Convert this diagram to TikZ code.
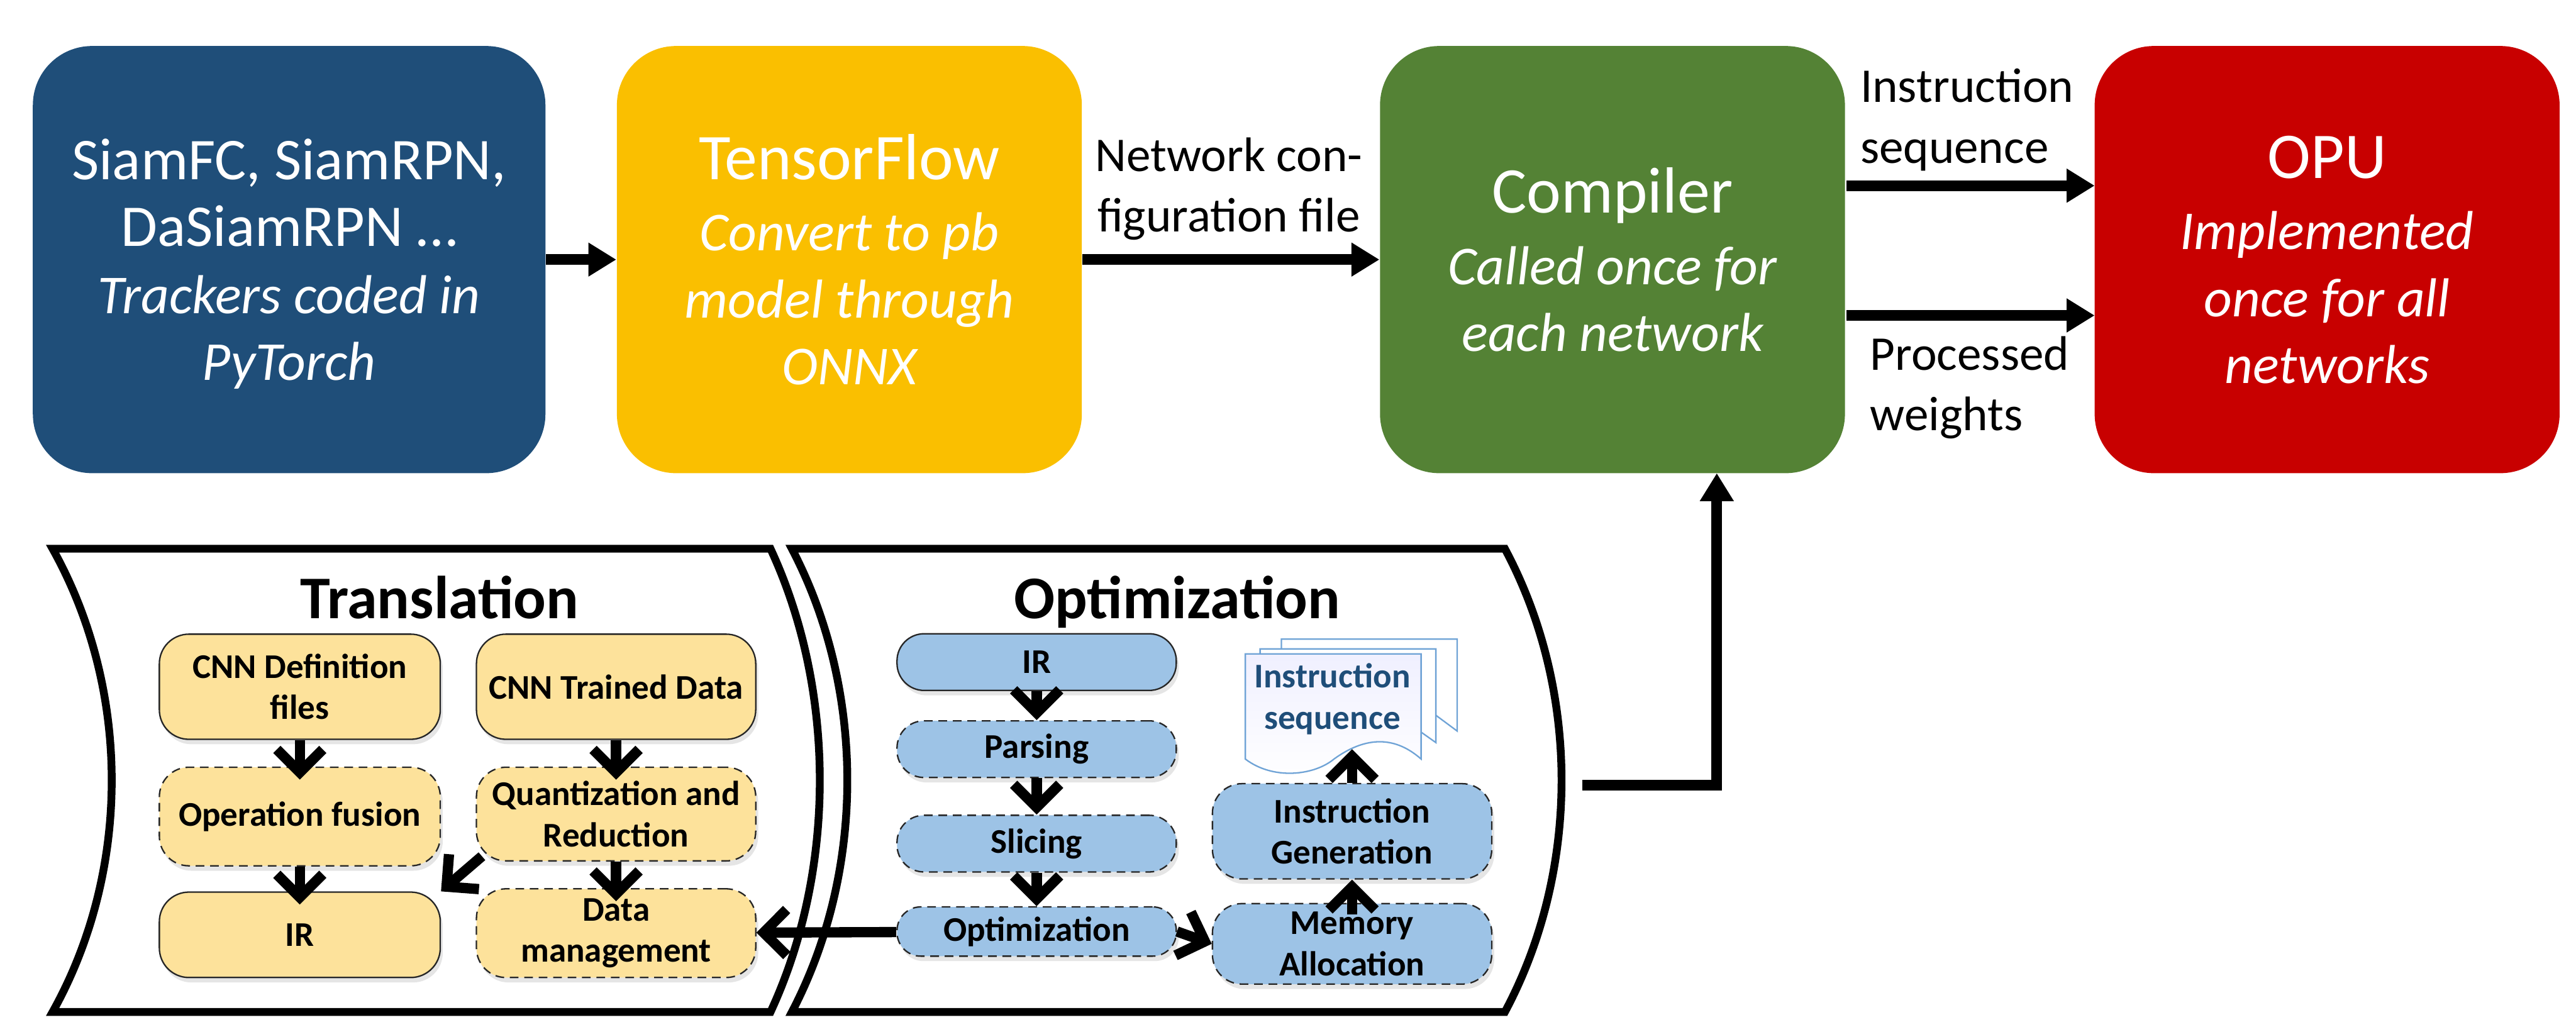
\documentclass[tikz,border=0pt]{standalone}
\usepackage{fontspec}
\setmainfont{Carlito}
\usetikzlibrary{arrows.meta,shadows}
\definecolor{trackblue}{HTML}{1F4E79}
\definecolor{tfyellow}{HTML}{FABF00}
\definecolor{compgreen}{HTML}{548235}
\definecolor{opured}{HTML}{C80000}
\definecolor{subyellow}{HTML}{FDE29B}
\definecolor{subblue}{HTML}{9DC3E6}
\definecolor{pageline}{HTML}{6FA3D6}
\begin{document}
\begin{tikzpicture}[
    x=0.2mm, y=-0.2mm,
    stage/.style={rounded corners=0.72cm, minimum width=5.66cm, minimum height=5.2cm, text=white, align=center, inner sep=0pt, text depth=0pt, font=\fontsize{19}{23.2}\selectfont},
    lab/.style={align=left, inner sep=0pt, font=\fontsize{16.8}{21}\selectfont},
    head/.style={inner sep=0pt, font=\fontsize{21}{24}\selectfont\bfseries},
    solidbox/.style={draw=black!85, line width=0.5pt, rounded corners=0.36cm, inner sep=0pt, align=center, font=\fontsize{12}{14.2}\selectfont\bfseries, drop shadow={shadow xshift=0.3mm, shadow yshift=-0.6mm, opacity=0.2}},
    dashbox/.style={solidbox, dashed, dash pattern=on 3pt off 2pt},
    arr/.style={-{Triangle[length=3.4mm, width=3.9mm]}, line width=1.3mm},
    barb/.style={-{Straight Barb[length=2.8mm, width=5.6mm]}, line width=1.25mm},
    dip/.style={barb, shorten >=-1.6mm},
    frame/.style={draw=black, line width=0.95mm, fill=white},
    page/.style={draw=pageline, line width=0.5pt, fill=white},
]
\useasboundingbox (0,0) rectangle (1568,625);

% Top row
\node[stage, fill=trackblue, minimum width=6.24cm] (track) at (176,158) {\fontsize{20.5}{23.2}\selectfont SiamFC, SiamRPN,\\ \fontsize{20.5}{23.2}\selectfont DaSiamRPN …\\ \itshape Trackers coded in\\ \itshape PyTorch};
\node[stage, fill=tfyellow] (tflow) at (517,158) {\fontsize{22.6}{25}\selectfont TensorFlow\\[1.5pt] \itshape Convert to pb\\ \itshape model through\\ \itshape ONNX};
\node[stage, fill=compgreen] (comp) at (981.5,158) {\fontsize{22.6}{25}\selectfont Compiler\\[1.5pt] \itshape Called once for\\ \itshape each network};
\node[stage, fill=opured] (opu) at (1416.5,158) {\fontsize{22.6}{25}\selectfont OPU\\[1.5pt] \itshape Implemented\\ \itshape once for all\\ \itshape networks};

\coordinate (seqfrom) at (1124,113);
\coordinate (seqto) at (1275,113);
\coordinate (wgtfrom) at (1124,192);
\coordinate (wgtto) at (1275,192);

\draw[arr] (track) -- (tflow);
\draw[arr] (tflow) -- (comp);
\draw[arr] (seqfrom) -- (seqto);
\draw[arr] (wgtfrom) -- (wgtto);

\node[lab, align=center] (netcfg) at (748,115) {Network con-\\figuration file};
\node[lab, anchor=west] (seqlab) at (1132,73) {Instruction\\sequence};
\node[lab, anchor=west] (wgtlab) at (1138,236) {Processed\\weights};

% Frames
\draw[frame] (32,334) -- (469,334) .. controls (509,420) and (509,530) .. (469,616) -- (32,616) .. controls (80,530) and (80,420) .. (32,334) -- cycle;
\draw[frame] (482,334) -- (916,334) .. controls (962,420) and (962,530) .. (916,616) -- (482,616) .. controls (527,530) and (527,420) .. (482,334) -- cycle;
\node[head, anchor=base] (transl) at (267.5,376.5) {Translation};
\node[head, anchor=base] (optim) at (716.5,376.5) {Optimization};

% Translation
\node[solidbox, fill=subyellow, minimum width=3.42cm, minimum height=1.28cm] (defn) at (182.5,418) {CNN Definition\\files};
\node[solidbox, fill=subyellow, minimum width=3.4cm, minimum height=1.28cm] (trained) at (375,418) {CNN Trained Data};
\node[dashbox, fill=subyellow, minimum width=3.42cm, minimum height=1.2cm] (fusion) at (182.5,497) {Operation fusion};
\node[dashbox, fill=subyellow, minimum width=3.4cm, minimum height=1.14cm] (quant) at (375,495.5) {Quantization and\\Reduction};
\node[solidbox, fill=subyellow, minimum width=3.42cm, minimum height=1.04cm] (irt) at (182.5,569) {IR};
\node[dashbox, fill=subyellow, minimum width=3.4cm, minimum height=1.08cm] (datam) at (375,568) {Data\\management};

% Optimization
\node[solidbox, fill=subblue, minimum width=3.4cm, minimum height=0.69cm, rounded corners=0.33cm] (ira) at (631,403) {IR};
\node[dashbox, fill=subblue, minimum width=3.4cm, minimum height=0.69cm, rounded corners=0.33cm] (parse) at (631,456) {Parsing};
\node[dashbox, fill=subblue, minimum width=3.4cm, minimum height=0.69cm, rounded corners=0.33cm] (slice) at (631,513.5) {Slicing};
\node[dashbox, fill=subblue, minimum width=3.4cm, minimum height=0.6cm, rounded corners=0.29cm] (opt) at (631,567) {Optimization};
\node[dashbox, fill=subblue, minimum width=3.4cm, minimum height=1.16cm] (gen) at (823,506) {Instruction\\Generation};
\node[dashbox, fill=subblue, minimum width=3.4cm, minimum height=0.98cm] (mem) at (823,574.5) {Memory\\Allocation};

% Instruction pages
\draw[page] (780,389) -- (887,389) -- (887,445) -- (860,425) -- (780,425) -- cycle;
\draw[page] (767,395) -- (874,395) -- (874,452) -- (850,435) -- (767,435) -- cycle;
\draw[page, top color=blue!6, bottom color=white] (758,398) -- (865,398) -- (865,462) .. controls (848,447) and (830,449) .. (812,462) .. controls (800,472) and (775,475) .. (758,462) -- cycle;
\node[inner sep=0pt, align=center, text=trackblue, font=\fontsize{12}{14.2}\selectfont\bfseries] (seqdoc) at (811,425.5) {Instruction\\sequence};
\coordinate (seqtip) at (823,456);

\draw[dip] (defn) -- (fusion);
\draw[dip] (fusion) -- (irt);
\draw[dip] (trained) -- (quant);
\draw[dip] (quant) -- (datam);
\draw[barb, shorten <=-1mm] (quant.south west) -- (irt.north east);
\draw[barb] (opt) -- (datam);
\draw[barb] (ira) -- (parse);
\draw[barb] (parse) -- (slice);
\draw[barb] (slice) -- (opt);
\draw[barb] (opt.east) -- (mem.west);
\draw[barb, shorten <=-1.4mm] (mem) -- (gen);
\draw[barb] (gen) -- (seqtip);

% Out to compiler
\coordinate (optout) at (963,478);
\coordinate (compin) at (1045,288);
\draw[arr] (optout) -| (compin);
\end{tikzpicture}
\end{document}
